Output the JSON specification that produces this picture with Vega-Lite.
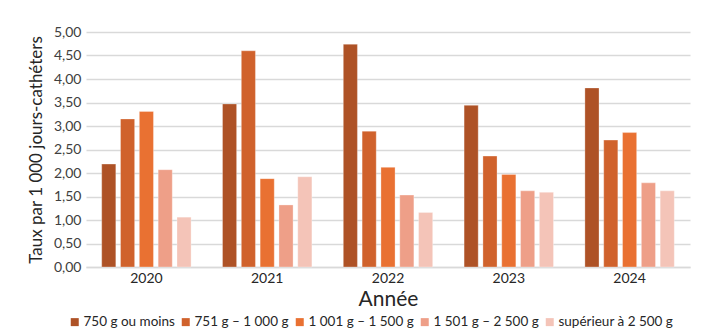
{
  "$schema": "https://vega.github.io/schema/vega-lite/v6.json",
  "width": 604,
  "height": 235,
  "autosize": {"type": "none"},
  "padding": {"left": 86, "top": 32, "right": 17, "bottom": 64},
  "background": "white",
  "data": {
    "values": [
      {"annee": "2020", "poids": "750 g ou moins", "taux": 2.19},
      {"annee": "2020", "poids": "751 g – 1 000 g", "taux": 3.15},
      {"annee": "2020", "poids": "1 001 g – 1 500 g", "taux": 3.31},
      {"annee": "2020", "poids": "1 501 g – 2 500 g", "taux": 2.07},
      {"annee": "2020", "poids": "supérieur à 2 500 g", "taux": 1.06},
      {"annee": "2021", "poids": "750 g ou moins", "taux": 3.47},
      {"annee": "2021", "poids": "751 g – 1 000 g", "taux": 4.60},
      {"annee": "2021", "poids": "1 001 g – 1 500 g", "taux": 1.88},
      {"annee": "2021", "poids": "1 501 g – 2 500 g", "taux": 1.32},
      {"annee": "2021", "poids": "supérieur à 2 500 g", "taux": 1.92},
      {"annee": "2022", "poids": "750 g ou moins", "taux": 4.74},
      {"annee": "2022", "poids": "751 g – 1 000 g", "taux": 2.89},
      {"annee": "2022", "poids": "1 001 g – 1 500 g", "taux": 2.12},
      {"annee": "2022", "poids": "1 501 g – 2 500 g", "taux": 1.53},
      {"annee": "2022", "poids": "supérieur à 2 500 g", "taux": 1.16},
      {"annee": "2023", "poids": "750 g ou moins", "taux": 3.44},
      {"annee": "2023", "poids": "751 g – 1 000 g", "taux": 2.36},
      {"annee": "2023", "poids": "1 001 g – 1 500 g", "taux": 1.97},
      {"annee": "2023", "poids": "1 501 g – 2 500 g", "taux": 1.62},
      {"annee": "2023", "poids": "supérieur à 2 500 g", "taux": 1.59},
      {"annee": "2024", "poids": "750 g ou moins", "taux": 3.81},
      {"annee": "2024", "poids": "751 g – 1 000 g", "taux": 2.70},
      {"annee": "2024", "poids": "1 001 g – 1 500 g", "taux": 2.86},
      {"annee": "2024", "poids": "1 501 g – 2 500 g", "taux": 1.79},
      {"annee": "2024", "poids": "supérieur à 2 500 g", "taux": 1.62}
    ]
  },
  "mark": {"type": "bar", "stroke": "white", "strokeWidth": 0.5, "strokeOpacity": 0.6},
  "encoding": {
    "x": {
      "field": "annee",
      "type": "nominal",
      "scale": {"paddingInner": 0.26, "paddingOuter": 0.13},
      "axis": {
        "title": "Année",
        "titleFontSize": 21,
        "titleFontWeight": "normal",
        "titleColor": "#262626",
        "titlePadding": 3,
        "labelAngle": 0,
        "labelFontSize": 14,
        "labelColor": "#262626",
        "labelPadding": 4,
        "ticks": false,
        "domainColor": "#D9D9D9",
        "domainWidth": 1.5
      }
    },
    "xOffset": {
      "field": "poids",
      "type": "nominal",
      "sort": ["750 g ou moins", "751 g – 1 000 g", "1 001 g – 1 500 g", "1 501 g – 2 500 g", "supérieur à 2 500 g"],
      "scale": {"paddingInner": 0.25, "paddingOuter": 0}
    },
    "y": {
      "field": "taux",
      "type": "quantitative",
      "scale": {"domain": [0, 5]},
      "axis": {
        "title": "Taux par 1 000 jours-cathéters",
        "titleFontSize": 17,
        "titleFontWeight": "normal",
        "titleColor": "#262626",
        "titlePadding": 8,
        "values": [0, 0.5, 1, 1.5, 2, 2.5, 3, 3.5, 4, 4.5, 5],
        "labelExpr": "replace(format(datum.value, '.2f'), '.', ',')",
        "labelFontSize": 14,
        "labelColor": "#404040",
        "labelPadding": 5,
        "ticks": false,
        "domain": false,
        "gridColor": "#D9D9D9",
        "gridWidth": 1.5
      }
    },
    "color": {
      "field": "poids",
      "type": "nominal",
      "sort": ["750 g ou moins", "751 g – 1 000 g", "1 001 g – 1 500 g", "1 501 g – 2 500 g", "supérieur à 2 500 g"],
      "scale": {
        "domain": ["750 g ou moins", "751 g – 1 000 g", "1 001 g – 1 500 g", "1 501 g – 2 500 g", "supérieur à 2 500 g"],
        "range": ["#AE5226", "#D0622C", "#E97132", "#EE9F88", "#F4C4B8"]
      },
      "legend": {
        "title": null,
        "orient": "none",
        "legendX": -18,
        "legendY": 283,
        "direction": "horizontal",
        "symbolType": "square",
        "symbolSize": 64,
        "symbolStrokeWidth": 0,
        "labelFontSize": 13.5,
        "labelColor": "#262626",
        "labelOffset": 2,
        "columnPadding": 4
      }
    }
  },
  "config": {
    "font": "Lato",
    "view": {"stroke": null}
  }
}
